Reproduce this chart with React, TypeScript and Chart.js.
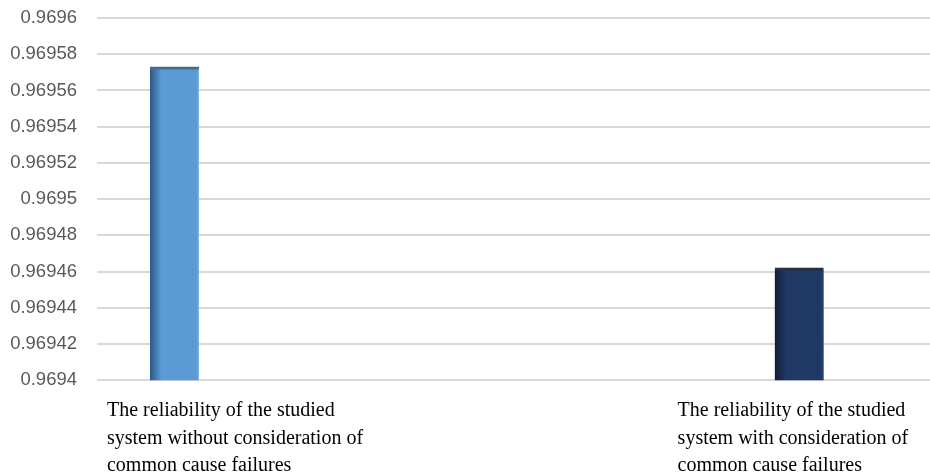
import { useEffect, useRef } from "react";
import { Chart, registerables } from "chart.js";

Chart.register(...registerables);

// ---- data ----
const categories: string[][] = [
  ["The reliability of the studied", "system without consideration of", "common cause failures"],
  ["The reliability of the studied", "system with consideration of", "common cause failures"],
];
const reliabilityValues: number[] = [0.969573, 0.969462];
const yTickValues: number[] = [
  0.9694, 0.96942, 0.96944, 0.96946, 0.96948, 0.9695, 0.96952, 0.96954, 0.96956, 0.96958, 0.9696,
];

// ---- layout (axis units of the horizontal scale, 0..10 across the plot) ----
const xSpan = 10;
const barAnchors: number[] = [0.93, 8.43];
const labelAnchors: number[] = [0.12, 6.97];
const barThickness = 49;
const yAxisWidth = 86;

// ---- styles ----
const barDark = ["#2c5886", "#121d35"];
const barBase = ["#5b9bd5", "#203864"];
const barLight = ["#7fb2e2", "#2e4a7e"];
const barTop = ["rgba(40,80,125,0.85)", "rgba(15,25,45,0.9)"];

function barFill(ctx: any) {
  const i = ctx.dataIndex ?? 0;
  const chart = ctx.chart;
  const area = chart.chartArea;
  const xs = chart.scales?.x;
  if (!area || !xs) return barBase[i];
  const cx = xs.getPixelForValue(barAnchors[i]);
  const half = barThickness / 2;
  const g = chart.ctx.createLinearGradient(cx - half, 0, cx + half, 0);
  g.addColorStop(0, barDark[i]);
  g.addColorStop(0.24, barBase[i]);
  g.addColorStop(0.95, barBase[i]);
  g.addColorStop(1, barLight[i]);
  return g;
}

export default function App() {
  const canvasRef = useRef<HTMLCanvasElement | null>(null);

  useEffect(() => {
    if (!canvasRef.current) return;
    const chart = new Chart(canvasRef.current, {
      type: "bar",
      data: {
        datasets: [
          {
            data: reliabilityValues.map((v, i) => ({ x: barAnchors[i], y: v })) as any,
            backgroundColor: barFill as any,
            borderColor: barTop,
            borderWidth: { top: 3, left: 0, right: 0, bottom: 0 } as any,
            borderSkipped: false,
            barThickness,
          },
        ],
      },
      options: {
        animation: false,
        responsive: true,
        maintainAspectRatio: false,
        layout: { padding: { left: 10, top: 18, right: 0, bottom: 0 } },
        plugins: { legend: { display: false }, tooltip: { enabled: false } },
        scales: {
          x: {
            type: "linear",
            min: 0,
            max: xSpan,
            offset: false,
            grid: { display: false, drawTicks: false, offset: false },
            border: { display: false },
            afterBuildTicks: (scale: any) => {
              scale.ticks = labelAnchors.map((v) => ({ value: v }));
            },
            afterFit: (scale: any) => {
              scale.paddingLeft = 0;
              scale.paddingRight = 0;
            },
            ticks: {
              align: "start",
              padding: 17,
              maxRotation: 0,
              autoSkip: false,
              color: "#000000",
              font: { family: "'Liberation Serif', 'Times New Roman', serif", size: 20, lineHeight: 1.38 },
              callback: (_v: any, idx: number) => categories[idx],
            },
          },
          y: {
            min: yTickValues[0],
            max: yTickValues[yTickValues.length - 1],
            grid: { color: "#d9d9d9", lineWidth: 2, drawTicks: false },
            border: { display: false },
            afterBuildTicks: (scale: any) => {
              scale.ticks = yTickValues.map((v) => ({ value: v }));
            },
            afterFit: (scale: any) => {
              scale.width = yAxisWidth + 1;
              scale.paddingTop = 0;
              scale.paddingBottom = 0;
            },
            ticks: {
              padding: 20,
              color: "#595959",
              font: { family: "'Liberation Sans', Arial, sans-serif", size: 18.5 },
              callback: (v: any) => String(Number(Number(v).toFixed(5))),
            },
          },
        },
      },
    });
    return () => chart.destroy();
  }, []);

  return (
    <div style={{ position: "fixed", left: 0, top: 0, width: 930, height: 497, background: "#ffffff" }}>
      <canvas ref={canvasRef} />
    </div>
  );
}
